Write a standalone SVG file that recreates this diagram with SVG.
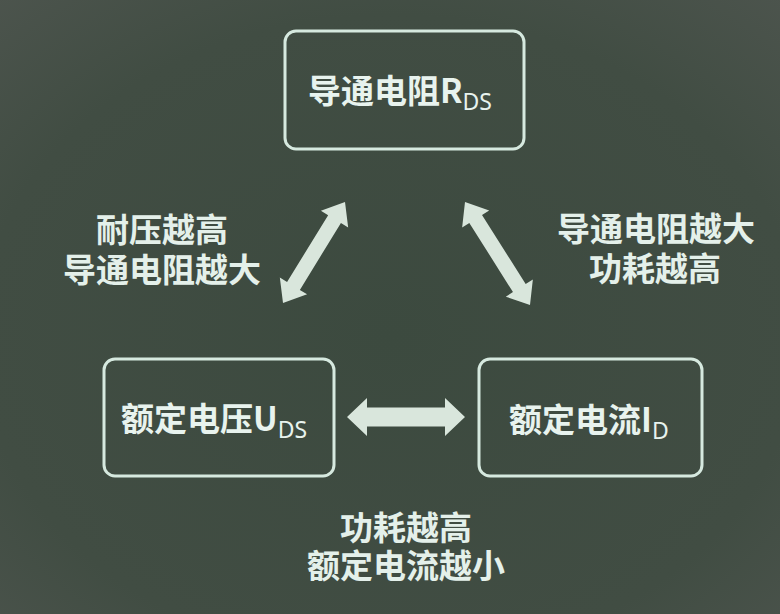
<svg xmlns="http://www.w3.org/2000/svg" width="780" height="614" viewBox="0 0 780 614">
<defs>
<radialGradient id="bg" cx="0.5" cy="0.55" r="0.75">
<stop offset="0" stop-color="#3c4a3f"/>
<stop offset="0.7" stop-color="#414d43"/>
<stop offset="1" stop-color="#4c544d"/>
</radialGradient>
</defs>
<style>
.box{fill:none;stroke:#d6e9df;stroke-width:3}
.t{font-family:"Noto Sans CJK SC","Noto Sans",sans-serif;font-weight:bold;fill:#e8f3ee;font-size:33px}
.sub{font-family:"Noto Sans","Noto Sans CJK SC",sans-serif;font-weight:normal;font-size:23px;fill:#e8f3ee}
.lbl{font-family:"Noto Sans CJK SC",sans-serif;font-weight:bold;fill:#e4f0ea;font-size:33px;text-anchor:middle}
.arr{fill:#d9e6dc}
</style>
<rect width="780" height="614" fill="url(#bg)"/>

<g id="node-rds">
<rect class="box" x="285" y="31" width="239" height="118" rx="11"/>
<text class="t" x="308" y="103">导通电阻R<tspan class="sub" dy="7">DS</tspan></text>
</g>

<g id="node-uds">
<rect class="box" x="104" y="359" width="230" height="117" rx="11"/>
<text class="t" x="121" y="431">额定电压U<tspan class="sub" dy="7">DS</tspan></text>
</g>

<g id="node-id">
<rect class="box" x="479" y="359" width="223" height="117" rx="11"/>
<text class="t" x="509" y="432">额定电流I<tspan class="sub" dy="7">D</tspan></text>
</g>

<g id="connectors">
<path class="arr" transform="translate(283,303) rotate(-58.45)" d="M0,0 L20,-16 L20,-7.5 L98.5,-7.5 L98.5,-16 L118.5,0 L98.5,16 L98.5,7.5 L20,7.5 L20,16 Z"/>
<path class="arr" transform="translate(465,202) rotate(57.75)" d="M0,0 L20,-16 L20,-7.5 L101.8,-7.5 L101.8,-16 L121.8,0 L101.8,16 L101.8,7.5 L20,7.5 L20,16 Z"/>
<path class="arr" transform="translate(347,417)" d="M0,0 L20,-19 L20,-9.5 L98,-9.5 L98,-19 L118,0 L98,19 L98,9.5 L20,9.5 L20,19 Z"/>
</g>

<g id="label-left">
<text class="lbl"><tspan x="162" y="242">耐压越高</tspan><tspan x="162" y="282">导通电阻越大</tspan></text>
</g>
<g id="label-right">
<text class="lbl"><tspan x="656" y="241">导通电阻越大</tspan><tspan x="655" y="281">功耗越高</tspan></text>
</g>
<g id="label-bottom">
<text class="lbl"><tspan x="406" y="540">功耗越高</tspan><tspan x="406" y="578">额定电流越小</tspan></text>
</g>
</svg>
